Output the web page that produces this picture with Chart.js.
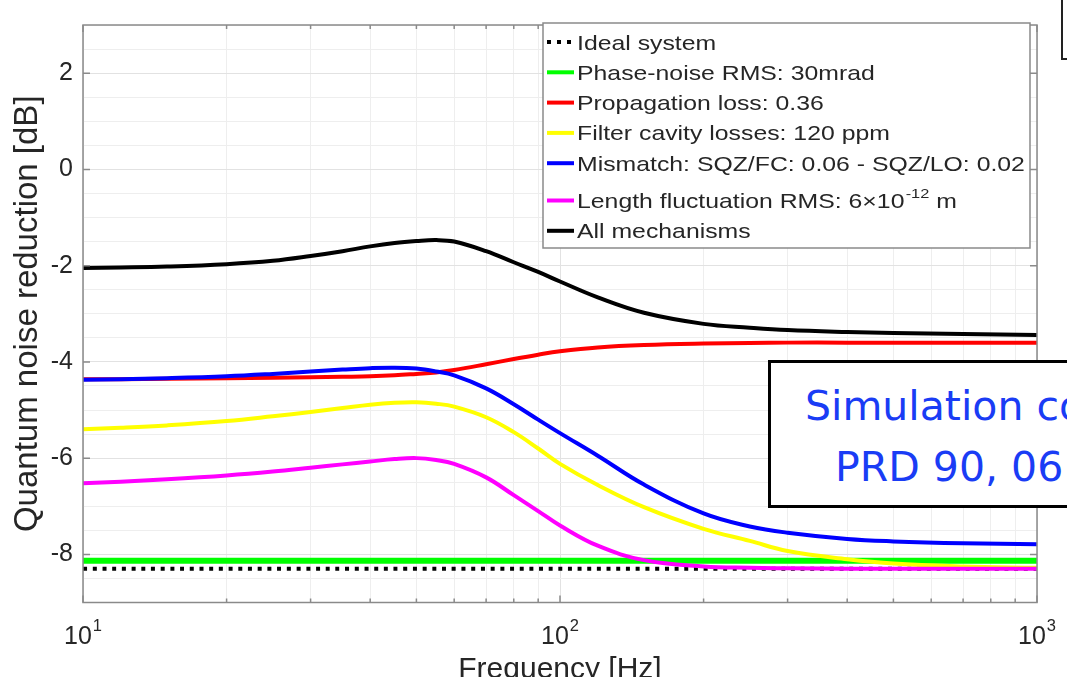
<!DOCTYPE html>
<html>
<head>
<meta charset="utf-8">
<title>Quantum noise reduction</title>
<script src="https://cdn.jsdelivr.net/npm/chart.js@4.4.1/dist/chart.umd.min.js"></script>
<style>
  html, body { margin: 0; padding: 0; background: #fff; overflow: hidden; }
  #wrap { position: relative; width: 1067px; height: 677px; overflow: hidden; }
  #noiseChart { position: absolute; left: 0; top: 0; }
  .simBox {
    position: absolute; left: 768px; top: 360px; width: 340px; height: 142px;
    border: 3px solid #000; background: #fff;
  }
  .simText {
    position: absolute; white-space: nowrap; color: #1a3cf5;
    font-family: "Comic Sans MS", "DejaVu Sans", sans-serif; font-size: 41px; line-height: 41px;
  }
  .cornerBox {
    position: absolute; left: 1061px; top: -3px; width: 20px; height: 61px;
    border-left: 2px solid #222; border-bottom: 2px solid #222; background: #fff;
  }
</style>
</head>
<body>
<div id="wrap">
  <canvas id="noiseChart" width="1067" height="677"></canvas>
  <div class="cornerBox"></div>
  <div class="simBox"></div>
  <div class="simText" style="left:805px; top:386px;">Simulation co</div>
  <div class="simText" style="left:835px; top:447px;">PRD 90, 06</div>
</div>
<script>
const freq = [10, 12, 15, 20, 25, 30, 35, 40, 45, 50, 55, 60, 70, 80, 90, 100, 120, 150, 200, 250, 300, 400, 500, 700, 1000];
const flatFreq = [10, 1000];

const idealSystem = [-8.3, -8.3];
const phaseNoise = [-8.13, -8.13];
const propagationLoss = [-4.36, -4.36, -4.35, -4.34, -4.33, -4.32, -4.31, -4.3, -4.28, -4.25, -4.22, -4.17, -4.05, -3.94, -3.85, -3.78, -3.7, -3.65, -3.62, -3.61, -3.6, -3.6, -3.6, -3.6, -3.6];
const filterLosses = [-5.4, -5.37, -5.32, -5.23, -5.13, -5.04, -4.96, -4.89, -4.85, -4.84, -4.87, -4.93, -5.15, -5.46, -5.8, -6.12, -6.56, -7.02, -7.47, -7.72, -7.93, -8.1, -8.19, -8.25, -8.28];
const mismatch = [-4.37, -4.36, -4.34, -4.3, -4.25, -4.2, -4.16, -4.13, -4.12, -4.14, -4.2, -4.28, -4.55, -4.88, -5.2, -5.48, -5.95, -6.55, -7.15, -7.42, -7.55, -7.68, -7.73, -7.77, -7.79];
const lengthFluct = [-6.52, -6.49, -6.44, -6.36, -6.28, -6.2, -6.13, -6.07, -6.02, -6.0, -6.04, -6.12, -6.4, -6.77, -7.1, -7.4, -7.82, -8.12, -8.25, -8.28, -8.29, -8.3, -8.3, -8.3, -8.3];
const allMechanisms = [-2.05, -2.04, -2.02, -1.97, -1.9, -1.8, -1.7, -1.6, -1.53, -1.49, -1.47, -1.5, -1.7, -1.93, -2.13, -2.33, -2.66, -2.98, -3.21, -3.29, -3.34, -3.38, -3.4, -3.42, -3.44];

const seriesLabels = [
  'Ideal system',
  'Phase-noise RMS: 30mrad',
  'Propagation loss: 0.36',
  'Filter cavity losses: 120 ppm',
  'Mismatch: SQZ/FC: 0.06 - SQZ/LO: 0.02',
  'Length fluctuation RMS: 6×10⁻¹² m',
  'All mechanisms'
];

const xTickValues = [10, 20, 30, 40, 50, 60, 70, 80, 90, 100, 200, 300, 400, 500, 600, 700, 800, 900, 1000];
const xMajorValues = [10, 100, 1000];
const xTickLabels = ['10¹', '10²', '10³'];
const yTickValues = [-8, -6, -4, -2, 0, 2];
const yTickLabels = ['-8', '-6', '-4', '-2', '0', '2'];

const TEXT = '#262626';
const FONT = '"Liberation Sans", Arial, sans-serif';

function pts(xs, ys) {
  return xs.map((x, i) => ({ x: x, y: ys[i] }));
}

function line(label, xs, ys, color, width, order, dash) {
  return {
    label: label,
    data: pts(xs, ys),
    borderColor: color,
    backgroundColor: color,
    borderWidth: width,
    borderDash: dash || [],
    borderCapStyle: 'butt',
    borderJoinStyle: 'round',
    pointRadius: 0,
    fill: false,
    tension: 0.4,
    order: order
  };
}

// later legend entries sit on top, like the original plot
const datasets = [
  line(seriesLabels[0], flatFreq, idealSystem, '#000000', 4, 7, [4, 5.7]),
  line(seriesLabels[1], flatFreq, phaseNoise, '#00ff00', 6, 6),
  line(seriesLabels[2], freq, propagationLoss, '#ff0000', 4, 5),
  line(seriesLabels[3], freq, filterLosses, '#ffff00', 4, 4),
  line(seriesLabels[4], freq, mismatch, '#0000ff', 4, 3),
  line(seriesLabels[5], freq, lengthFluct, '#ff00ff', 4, 2),
  line(seriesLabels[6], freq, allMechanisms, '#000000', 4, 1)
];

// y minor grid every 0.5 dB
const yGridValues = [];
for (let v = -9; v <= 3.001; v += 0.5) yGridValues.push(Math.round(v * 10) / 10);

const SUP = { '⁻': '-', '¹': '1', '²': '2', '³': '3', '⁰': '0' };

function richParts(text) {
  const parts = [];
  for (const ch of text) {
    const sup = ch in SUP;
    const c = sup ? SUP[ch] : ch;
    if (parts.length && parts[parts.length - 1].sup === sup) parts[parts.length - 1].t += c;
    else parts.push({ t: c, sup: sup });
  }
  return parts;
}

function richWidth(ctx, text, size, supScale) {
  let w = 0;
  richParts(text).forEach(p => {
    ctx.font = (p.sup ? size * supScale : size) + 'px ' + FONT;
    w += ctx.measureText(p.t).width + (p.sup ? 1 : 0);
  });
  return w;
}

function drawRich(ctx, text, x, y, size, supScale, rise) {
  let cx = x;
  richParts(text).forEach(p => {
    ctx.font = (p.sup ? size * supScale : size) + 'px ' + FONT;
    ctx.fillText(p.t, cx + (p.sup ? 1 : 0), p.sup ? y - size * rise : y);
    cx += ctx.measureText(p.t).width + (p.sup ? 1 : 0);
  });
}

const framePlugin = {
  id: 'frame',
  afterDatasetsDraw(chart) {
    const { ctx, chartArea: a, scales } = chart;
    ctx.save();
    ctx.strokeStyle = '#8a8a8a';
    ctx.lineWidth = 1.5;
    ctx.beginPath();
    xTickValues.forEach(v => {
      const px = scales.x.getPixelForValue(v);
      const len = xMajorValues.includes(v) ? 7 : 4;
      ctx.moveTo(px, a.bottom); ctx.lineTo(px, a.bottom - len);
      ctx.moveTo(px, a.top); ctx.lineTo(px, a.top + len);
    });
    yTickValues.forEach(v => {
      const py = scales.y.getPixelForValue(v);
      ctx.moveTo(a.left, py); ctx.lineTo(a.left + 7, py);
      ctx.moveTo(a.right, py); ctx.lineTo(a.right - 7, py);
    });
    ctx.stroke();
    ctx.strokeRect(a.left, a.top, a.right - a.left, a.bottom - a.top);

    // x tick labels with real superscripts, placed by the x scale
    ctx.fillStyle = TEXT;
    ctx.textAlign = 'left';
    ctx.textBaseline = 'alphabetic';
    xMajorValues.forEach((v, k) => {
      const px = scales.x.getPixelForValue(v);
      const w = richWidth(ctx, xTickLabels[k], 25, 0.66);
      drawRich(ctx, xTickLabels[k], px - w / 2, a.bottom + 41, 25, 0.66, 0.5);
    });
    ctx.restore();
  }
};

const legendPlugin = {
  id: 'boxLegend',
  afterDraw(chart) {
    const ctx = chart.ctx;
    const box = { left: 543, top: 23, right: 1030, bottom: 248 };
    ctx.save();
    ctx.fillStyle = '#fff';
    ctx.fillRect(box.left, box.top, box.right - box.left, box.bottom - box.top);
    ctx.strokeStyle = '#8a8a8a';
    ctx.lineWidth = 1.5;
    ctx.strokeRect(box.left, box.top, box.right - box.left, box.bottom - box.top);
    chart.data.datasets.forEach((ds, i) => {
      const cy = 42 + i * 30.3 + (i >= 5 ? 7 : 0);
      ctx.strokeStyle = ds.borderColor;
      ctx.lineWidth = 4;
      ctx.lineCap = 'butt';
      ctx.setLineDash(ds.borderDash.length ? [4, 6] : []);
      ctx.beginPath();
      ctx.moveTo(547, cy);
      ctx.lineTo(574, cy);
      ctx.stroke();
      ctx.setLineDash([]);
      ctx.fillStyle = TEXT;
      ctx.textAlign = 'left';
      ctx.textBaseline = 'alphabetic';
      ctx.save();
      ctx.translate(577, cy + 7.5);
      ctx.scale(1.24, 1.03);
      drawRich(ctx, ds.label, 0, 0, 20, 0.66, 0.48);
      ctx.restore();
    });
    ctx.restore();
  }
};

const chart = new Chart(document.getElementById('noiseChart').getContext('2d'), {
  type: 'line',
  data: { datasets: datasets },
  options: {
    responsive: false,
    animation: false,
    devicePixelRatio: 1,
    layout: { padding: { top: 16, right: 30, left: 0, bottom: 0 } },
    plugins: { legend: { display: false }, tooltip: { enabled: false } },
    scales: {
      x: {
        type: 'logarithmic',
        position: 'bottom',
        min: 10,
        max: 1000,
        afterBuildTicks: s => { s.ticks = xTickValues.map(v => ({ value: v })); },
        afterFit: s => { s.height = 74.5; },
        border: { display: false },
        grid: {
          drawTicks: false,
          lineWidth: 1,
          color: c => xMajorValues.includes(c.tick && c.tick.value) ? '#e2e2e2' : '#eeeeee'
        },
        ticks: { display: false, autoSkip: false },
        title: {
          display: true,
          text: 'Frequency [Hz]',
          color: TEXT,
          font: { family: FONT, size: 30, lineHeight: 0.5 },
          padding: 0
        }
      },
      y: {
        type: 'linear',
        min: -9,
        max: 3,
        afterBuildTicks: s => { s.ticks = yGridValues.map(v => ({ value: v })); },
        afterFit: s => { s.width = 83; },
        border: { display: false },
        grid: {
          drawTicks: false,
          lineWidth: 1,
          color: c => yTickValues.includes(c.tick && c.tick.value) ? '#e2e2e2' : '#eeeeee'
        },
        ticks: {
          autoSkip: false,
          padding: 10,
          color: TEXT,
          font: { family: FONT, size: 25 },
          callback: v => {
            const k = yTickValues.indexOf(v);
            return k >= 0 ? yTickLabels[k] : '';
          }
        },
        title: {
          display: true,
          text: 'Quantum noise reduction [dB]',
          color: TEXT,
          font: { family: FONT, size: 33, lineHeight: 1.2 },
          padding: { top: 8, bottom: 0 }
        }
      }
    }
  },
  plugins: [framePlugin, legendPlugin]
});
</script>
</body>
</html>
